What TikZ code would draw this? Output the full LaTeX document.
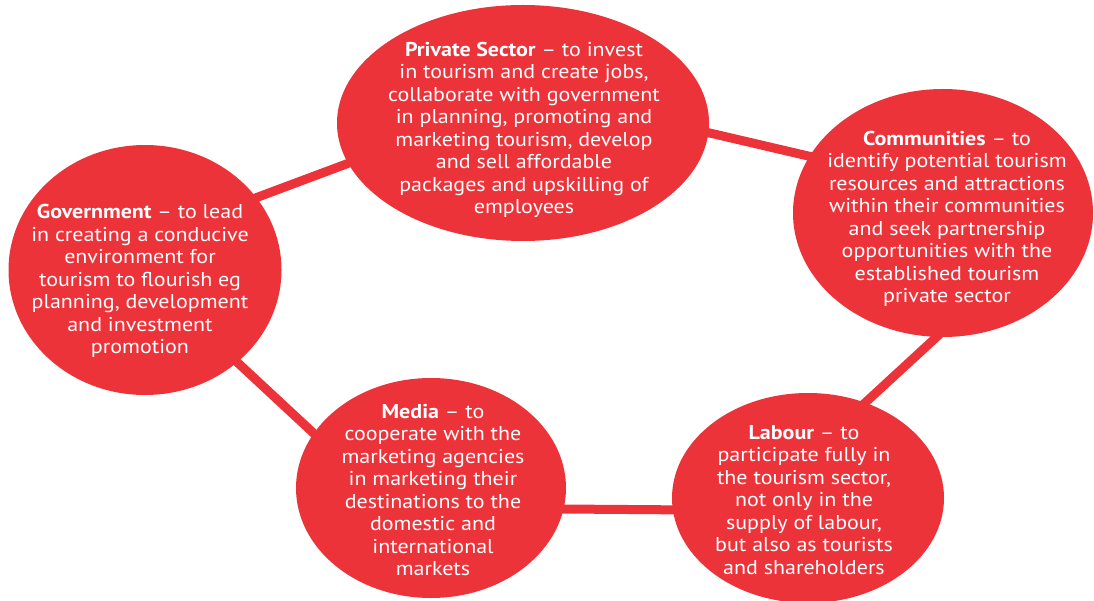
\documentclass[tikz,border=0pt]{standalone}
\usepackage{fontspec}
\setmainfont{PT Sans}[FakeStretch=1.1]
\usetikzlibrary{shapes.geometric}
\definecolor{rolered}{RGB}{237,51,58}

\begin{document}
\begin{tikzpicture}[x=1pt,y=-1pt]
\tikzstyle{every node}+=[inner sep=0pt]
\tikzstyle{bubble}=[ellipse,fill=rolered,draw=none]
\tikzstyle{blurb}=[text=white,align=center,font=\fontsize{20}{22.5}\selectfont]
\tikzstyle{link}=[rolered,line width=9pt,shorten <=-6pt,shorten >=-6pt]
\useasboundingbox (0,0) rectangle (1094,601);
% the five role bubbles
\node [bubble,minimum width=273,minimum height=250] (gov) at (145,270) {};
\node [bubble,minimum width=372,minimum height=236] (priv) at (523,123) {};
\node [bubble,minimum width=300,minimum height=248] (comm) at (943,213) {};
\node [bubble,minimum width=270,minimum height=220] (media) at (431,488) {};
\node [bubble,minimum width=272,minimum height=210] (labour) at (808,498) {};
% ring of links
\draw [link] (gov.33) -- (priv.193);
\draw [link] (priv.-3) -- (comm.157);
\draw [link] (comm.267) -- (labour.59);
\draw [link] (labour.185) -- (media.-9);
\draw [link] (media.155) -- (gov.-45);
% texts
\node [blurb] (gov-text) at (140,281) {\textbf{Government} – to lead\\in creating a conducive\\environment for\\tourism to flourish eg\\planning, development\\and investment\\promotion};
\node [blurb] (priv-text) at (524,130) {\textbf{Private Sector} – to invest\\in tourism and create jobs,\\collaborate with government\\in planning, promoting and\\marketing tourism, develop\\and sell affordable\\packages and upskilling of\\employees};
\node [blurb] (comm-text) at (947,219) {\textbf{Communities} – to\\identify potential tourism\\resources and attractions\\within their communities\\and seek partnership\\opportunities with the\\established tourism\\private sector};
\node [blurb] (media-text) at (433,490) {\textbf{Media} – to\\cooperate with the\\marketing agencies\\in marketing their\\destinations to the\\domestic and\\international\\markets};
\node [blurb] (labour-text) at (804,500) {\textbf{Labour} – to\\participate fully in\\the tourism sector,\\not only in the\\supply of labour,\\but also as tourists\\and shareholders};
\end{tikzpicture}
\end{document}
